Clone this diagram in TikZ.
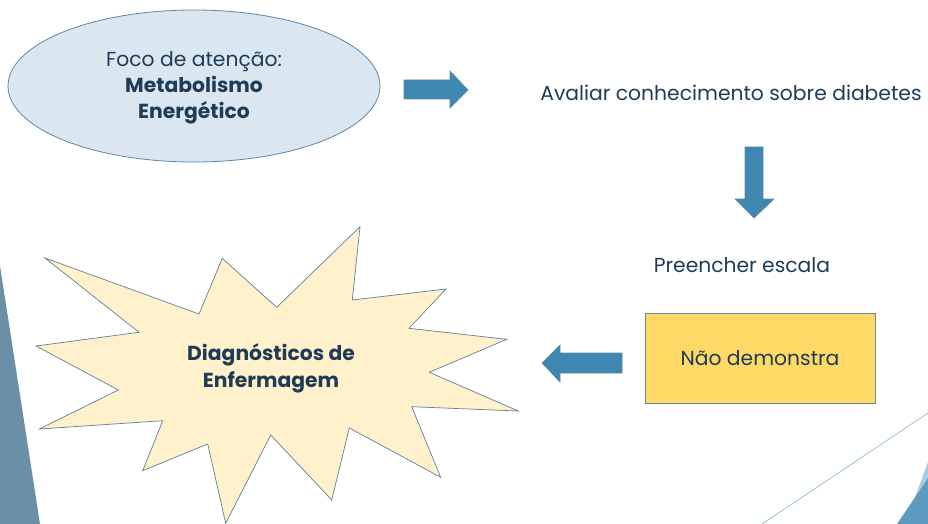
\documentclass[tikz,border=0pt]{standalone}
\usepackage{fontspec}
\setmainfont{Poppins}
\definecolor{txt}{HTML}{1F3B55}
\definecolor{ellfill}{HTML}{DAE6F0}
\definecolor{ellline}{HTML}{5F86A8}
\definecolor{starfill}{HTML}{FFF1CC}
\definecolor{starline}{HTML}{5F7F9A}
\definecolor{boxfill}{HTML}{FFD966}
\definecolor{boxline}{HTML}{6F8399}
\definecolor{arrfill}{HTML}{3F86B0}
\definecolor{arrline}{HTML}{5A8BA8}
\definecolor{band}{HTML}{6A8FA6}
\definecolor{corner}{HTML}{5F9BC0}
\definecolor{cornerlt}{HTML}{A9CCE0}
\tikzset{
  lbl/.style={text=txt, font=\fontsize{20.3}{26}\selectfont, inner sep=0pt},
  blockarrow/.style={fill=arrfill, draw=arrline, line width=0.6pt},
}
\begin{document}
\begin{tikzpicture}[x=1pt,y=-1pt]
\useasboundingbox (0,0) rectangle (928,524);
% background decorations
\fill[band] (0,266) -- (40,524) -- (0,524) -- cycle;
\draw[cornerlt, line width=1pt] (762,524) -- (928,413);
\fill[cornerlt] (905,524) -- (928,462) -- (928,524) -- cycle;
\fill[corner] (897,524) -- (928,478) -- (928,524) -- cycle;
% ellipse
\draw[fill=ellfill, draw=ellline, line width=0.8pt] (194,86) ellipse [x radius=186, y radius=76];
\node[lbl, align=center] (foco) at (194,88) {Foco de atenção:\\\textbf{Metabolismo}\\\textbf{Energético}};
% right arrow
\draw[blockarrow] (404,80) -- (450,80) -- (450,71) -- (468,90) -- (450,108) -- (450,99) -- (404,99) -- cycle;
\node[lbl] (aval) at (731,93) {Avaliar conhecimento sobre diabetes};
% down arrow
\draw[blockarrow] (745,147) -- (763,147) -- (763,199) -- (774,199) -- (754,218) -- (735,199) -- (745,199) -- cycle;
\node[lbl] (pre) at (742,265) {Preencher escala};
% box
\node[draw=boxline, fill=boxfill, line width=0.8pt, minimum width=230pt, minimum height=90pt, lbl] (nao) at (760,358) {Não demonstra};
% left arrow
\draw[blockarrow] (622,353) -- (560,353) -- (560,345) -- (542,363) -- (560,382) -- (560,373) -- (622,373) -- cycle;
% star
\draw[fill=starfill, draw=starline, line width=0.7pt]
 (45,258) -- (199,314) -- (222.3,258.3) -- (276.7,307.3) -- (360,226.7) -- (352.3,300)
 -- (446,289) -- (409,328.3) -- (506.7,339.3) -- (429.3,372.3) -- (518.3,411)
 -- (411.7,406.7) -- (440.7,477.3) -- (349.3,428) -- (331.7,500) -- (270.7,435)
 -- (225.7,523.3) -- (207.7,444) -- (142.7,470.7) -- (162.7,420.7) -- (39.3,429)
 -- (118.3,390) -- (36,346) -- (139,332.3) -- cycle;
\node[lbl, align=center, font=\fontsize{20.3}{27}\selectfont\bfseries] (diag) at (271,368) {Diagnósticos de\\Enfermagem};
\end{tikzpicture}
\end{document}
